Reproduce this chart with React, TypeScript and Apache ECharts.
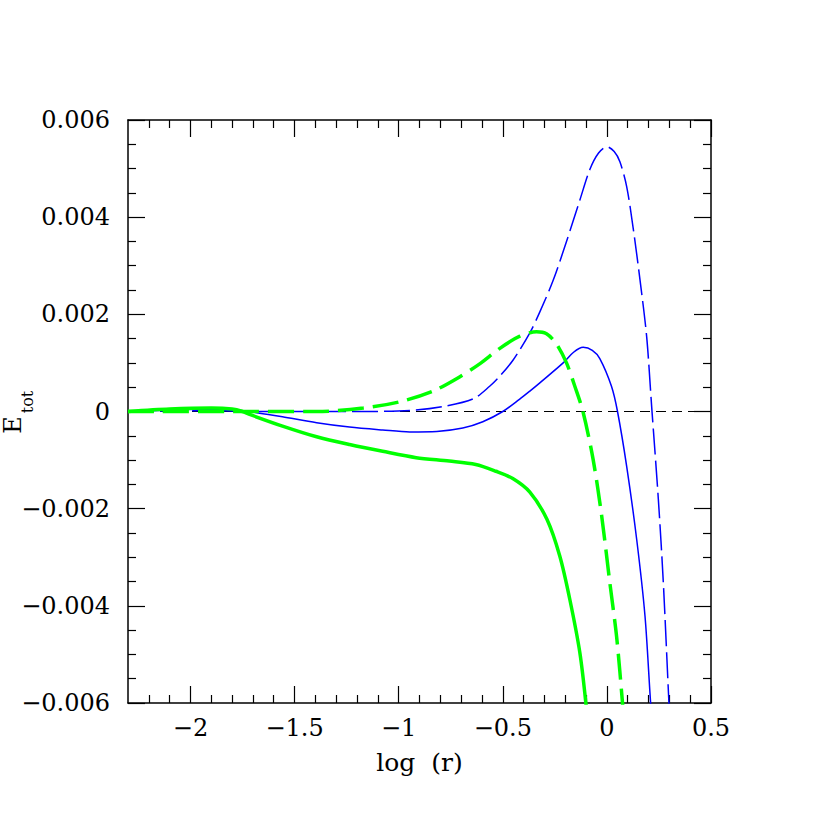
import React, { useEffect, useRef } from "react";
import * as echarts from "echarts";

// Tick positions
const xMajorTicks = [-2, -1.5, -1, -0.5, 0, 0.5];
const xMinorTicks = [-2.2, -2.1, -1.9, -1.8, -1.7, -1.6, -1.4, -1.3, -1.2, -1.1, -0.9, -0.8, -0.7, -0.6, -0.4, -0.3, -0.2, -0.1, 0.1, 0.2, 0.3, 0.4];

// Green solid (thick)
const greenSolidX = [-2.3, -2.1, -1.9, -1.8, -1.75, -1.716, -1.558, -1.394, -1.236, -1.077, -0.916, -0.757, -0.63, -0.533, -0.452, -0.37, -0.288, -0.226, -0.178, -0.13, -0.101, -0.085];
const greenSolidY = [0, 0.00005, 0.00007, 0.00005, 0.0, -0.00006, -0.0003, -0.00052, -0.00068, -0.00082, -0.00095, -0.00102, -0.00109, -0.00123, -0.00138, -0.00166, -0.00222, -0.00298, -0.00387, -0.00496, -0.006, -0.0068];

// Green dashed (thick)
const greenDashX = [-2.3, -1.75, -1.394, -1.17, -0.995, -0.835, -0.72, -0.611, -0.514, -0.418, -0.338, -0.29, -0.242, -0.194, -0.154, -0.115, -0.066, -0.025, 0.014, 0.047, 0.075, 0.09];
const greenDashY = [0, 0, 0, 0.00007, 0.0002, 0.00042, 0.00068, 0.00098, 0.0013, 0.00155, 0.00164, 0.0016, 0.00139, 0.001, 0.00052, 0, -0.00099, -0.00215, -0.00352, -0.00465, -0.006, -0.0068];

// Blue solid (thin)
const blueSolidX = [-2.3, -2.1, -1.9, -1.8, -1.716, -1.558, -1.394, -1.236, -1.077, -0.947, -0.817, -0.692, -0.596, -0.5, -0.42, -0.37, -0.322, -0.21, -0.16, -0.114, -0.07, -0.034, 0.022, 0.051, 0.095, 0.143, 0.183, 0.21, 0.225];
const blueSolidY = [0, 0.00003, 0.00005, 0.00003, 0, -0.00011, -0.00023, -0.00032, -0.00038, -0.00042, -0.00041, -0.00034, -0.00021, 0, 0.00025, 0.00042, 0.00059, 0.001, 0.00122, 0.00132, 0.00126, 0.00109, 0.00052, 0, -0.00113, -0.00263, -0.00421, -0.006, -0.0068];

// Blue dashed (thin)
const blueDashX = [-2.3, -1.9, -1.7, -1.2, -0.947, -0.788, -0.642, -0.563, -0.514, -0.452, -0.37, -0.322, -0.258, -0.194, -0.13, -0.082, -0.04, 0, 0.035, 0.0625, 0.095, 0.126, 0.159, 0.191, 0.215, 0.247, 0.271, 0.298, 0.31];
const blueDashY = [0, 0.00002, 0, 0, 0.00002, 0.0001, 0.00026, 0.00052, 0.00073, 0.00105, 0.00162, 0.00205, 0.0027, 0.0035, 0.00435, 0.00498, 0.00532, 0.00545, 0.00535, 0.00514, 0.00463, 0.00378, 0.00271, 0.00154, 0.0001, -0.0018, -0.00352, -0.006, -0.007];

// Zero reference line
const zeroX = [-2.3, 0.5];
const zeroY = [0, 0];

const FONT = "DejaVu Serif";

const pairs = (xs: number[], ys: number[]) => xs.map((x, i) => [x, ys[i]]);

const fmtX = (v: number) => {
  const r = Math.round(v * 10) / 10;
  if (r === 0) return "0";
  return r < 0 ? "\u2212" + String(Math.abs(r)) : String(r);
};
const fmtY = (v: number) => {
  const r = Math.round(v * 1000) / 1000;
  if (r === 0) return "0";
  const s = Math.abs(r).toFixed(3);
  return r < 0 ? "\u2212" + s : s;
};

export default function App() {
  const ref = useRef<HTMLDivElement>(null);
  useEffect(() => {
    if (!ref.current) return;
    const chart = echarts.init(ref.current, undefined, { renderer: "svg" });
    const lineCol = "#000";
    const xBase = (pos: "bottom" | "top", major: boolean, label: boolean) => ({
      type: "value",
      min: -2.3,
      max: 0.5,
      position: pos,
      axisLine: { show: major, onZero: false, lineStyle: { color: lineCol, width: 1.5 } },
      axisTick: {
        show: true,
        inside: true,
        length: major ? 17 : 8,
        customValues: major ? xMajorTicks : xMinorTicks,
        lineStyle: { color: lineCol, width: 1.2 },
      },
      axisLabel: {
        show: label,
        customValues: xMajorTicks,
        formatter: fmtX,
        margin: 13,
        fontSize: 24,
        fontFamily: FONT,
        color: "#000",
      },
      splitLine: { show: false },
      ...(label
        ? {
            name: "log  (r)",
            nameLocation: "middle",
            nameGap: 47,
            nameTextStyle: { fontSize: 25, fontFamily: FONT, color: "#000" },
          }
        : {}),
    });
    const yBase = (pos: "left" | "right", label: boolean) => ({
      type: "value",
      min: -0.006,
      max: 0.006,
      interval: 0.002,
      position: pos,
      axisLine: { show: true, onZero: false, lineStyle: { color: lineCol, width: 1.5 } },
      axisTick: { show: true, inside: true, length: 17, lineStyle: { color: lineCol, width: 1.2 } },
      minorTick: { show: true, splitNumber: 4, length: 8, lineStyle: { color: lineCol, width: 1.2 } },
      axisLabel: {
        show: label,
        formatter: fmtY,
        margin: 18,
        fontSize: 24,
        fontFamily: FONT,
        color: "#000",
      },
      splitLine: { show: false },
      minorSplitLine: { show: false },
    });
    const lineSeries = (name: string, xs: number[], ys: number[], color: string, width: number, type: any) => ({
      name,
      type: "line",
      data: pairs(xs, ys),
      xAxisIndex: 0,
      yAxisIndex: 0,
      showSymbol: false,
      symbol: "none",
      smooth: 0.3,
      clip: true,
      lineStyle: { color, width, type },
    });
    chart.setOption({
      animation: false,
      backgroundColor: "#fff",
      grid: { left: 128, top: 120, width: 583, height: 583, containLabel: false },
      xAxis: [xBase("bottom", true, true), xBase("bottom", false, false), xBase("top", true, false), xBase("top", false, false)],
      yAxis: [yBase("left", true), yBase("right", false)],
      graphic: [
        {
          type: "text",
          x: 13,
          y: 425,
          rotation: Math.PI / 2,
          style: { text: "E", fontSize: 24, fontFamily: FONT, fill: "#000", align: "center", verticalAlign: "middle" },
        },
        {
          type: "text",
          x: 27,
          y: 402,
          rotation: Math.PI / 2,
          style: { text: "tot", fontSize: 16, fontFamily: FONT, fill: "#000", align: "center", verticalAlign: "middle" },
        },
      ],
      series: [
        {
          name: "zero",
          type: "line",
          data: pairs(zeroX, zeroY),
          xAxisIndex: 0,
          yAxisIndex: 0,
          showSymbol: false,
          symbol: "none",
          lineStyle: { color: "#000", width: 1.2, type: [10, 6] },
        },
        lineSeries("blueSolid", blueSolidX, blueSolidY, "#0000ff", 1.5, "solid"),
        lineSeries("blueDash", blueDashX, blueDashY, "#0000ff", 1.5, [26, 6]),
        lineSeries("greenSolid", greenSolidX, greenSolidY, "#00ff00", 3.5, "solid"),
        lineSeries("greenDash", greenDashX, greenDashY, "#00ff00", 3.5, [26, 9]),
      ],
    });
    return () => chart.dispose();
  }, []);
  return <div ref={ref} style={{ width: 830, height: 830, position: "absolute", left: 0, top: 0 }} />;
}
